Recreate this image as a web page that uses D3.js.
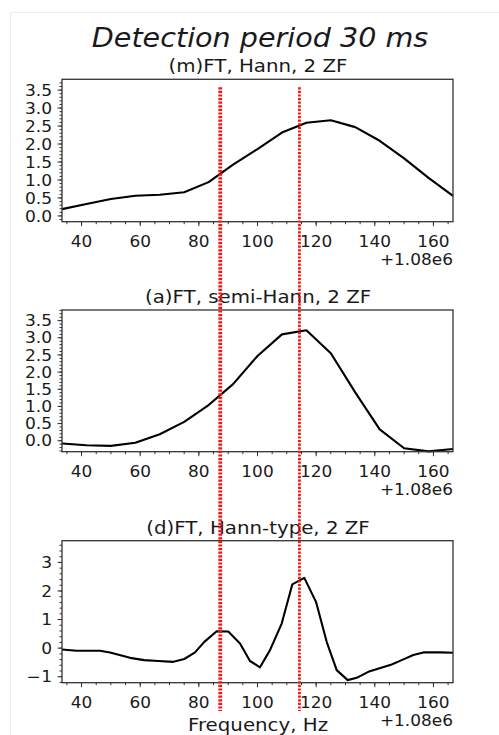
<!DOCTYPE html>
<html>
<head>
<meta charset="utf-8">
<script src="https://cdn.jsdelivr.net/npm/d3@7"></script>
<style>
  html, body { margin: 0; padding: 0; background: #fff; }
  svg { display: block; }
  text { font-family: "DejaVu Sans", sans-serif; fill: #1a1a1a; }
</style>
</head>
<body>
<svg id="fig" width="499" height="735"></svg>
<script>
// Frequency offsets (Hz, relative to 1.08e6) for the mFT and aFT spectra
const freqGrid = [33.33, 41.67, 50.0, 58.33, 66.67, 75.0, 83.33, 91.67, 100.0,
                  108.33, 116.67, 125.0, 133.33, 141.67, 150.0, 158.33, 166.67];
// (m)FT, Hann window, 2 zero fills
const mftHann = [0.19, 0.33, 0.47, 0.56, 0.59, 0.66, 0.94, 1.43, 1.86,
                 2.32, 2.59, 2.66, 2.47, 2.09, 1.60, 1.06, 0.56];
// (a)FT, semi-Hann window, 2 zero fills
const aftSemiHann = [-0.08, -0.13, -0.15, -0.06, 0.19, 0.55, 1.04, 1.65, 2.47,
                     3.10, 3.22, 2.55, 1.41, 0.33, -0.22, -0.31, -0.24];
// (d)FT, Hann-type window, 2 zero fills (finer grid)
const dftFreq = [33.33, 38.35, 46.29, 49.70, 56.52, 61.40, 66.17, 71.29, 75.04,
                 78.69, 81.86, 86.09, 90.04, 94.03, 97.44, 100.85, 104.26, 108.25,
                 111.86, 115.96, 119.95, 123.59, 127.01, 130.76, 133.82, 137.78,
                 145.76, 149.17, 153.13, 156.54, 162.23, 166.67];
const dftHannType = [-0.05, -0.09, -0.09, -0.15, -0.34, -0.42, -0.45, -0.48, -0.38,
                     -0.15, 0.22, 0.59, 0.58, 0.16, -0.45, -0.67, -0.07, 0.86,
                     2.23, 2.46, 1.62, 0.22, -0.77, -1.12, -1.04, -0.83,
                     -0.57, -0.42, -0.24, -0.15, -0.15, -0.16];
// Marked frequencies (Hz, relative to 1.08e6)
const markerFreqs = [87.3, 114.3];

const panelTitles = ["(m)FT, Hann, 2 ZF", "(a)FT, semi-Hann, 2 ZF", "(d)FT, Hann-type, 2 ZF"];
const figTitle = "Detection period 30 ms";
const xLabel = "Frequency, Hz";
const offsetLabel = "+1.08e6";
const xTicks = [40, 60, 80, 100, 120, 140, 160];
const yTicksHalf = [0.0, 0.5, 1.0, 1.5, 2.0, 2.5, 3.0, 3.5];
const yTicksUnit = [-1, 0, 1, 2, 3];

const svg = d3.select("#fig");

function label(g, x, y, str, size, anchor, italic, sx) {
  return g.append("text")
    .attr("transform", `translate(${x},${y}) scale(${sx || 1.1},1)`)
    .attr("text-anchor", anchor || "middle")
    .style("font-size", size + "px")
    .style("font-style", italic ? "italic" : "normal")
    .text(str);
}

// light frame round the figure
svg.append("path")
  .attr("d", "M10.5,735 V12.5 H499")
  .attr("fill", "none").attr("stroke", "#ececec").attr("stroke-width", 1);

label(svg, 260, 47, figTitle, 26, "middle", true);

const left = 62, right = 453;
const x = d3.scaleLinear().domain([33.33, 166.67]).range([left, right]);

const panels = [
  { title: panelTitles[0], xs: freqGrid, ys: mftHann, dom: [-0.16, 3.80], top: 79.3, bottom: 221.7,
    ticks: yTicksHalf, minorStep: 0.1, fmt: d3.format(".1f") },
  { title: panelTitles[1], xs: freqGrid, ys: aftSemiHann, dom: [-0.32, 3.81], top: 310, bottom: 451.7,
    ticks: yTicksHalf, minorStep: 0.1, fmt: d3.format(".1f") },
  { title: panelTitles[2], xs: dftFreq, ys: dftHannType, dom: [-1.21, 3.76], top: 540.7, bottom: 682.7,
    ticks: yTicksUnit, minorStep: 0.2, fmt: d3.format("d") }
];

const xMinor = d3.range(35, 167, 5);

panels.forEach((p, i) => {
  const y = d3.scaleLinear().domain(p.dom).range([p.bottom, p.top]);
  p.y = y;
  const g = svg.append("g");

  // minor + major ticks
  const yMinor = d3.range(Math.ceil(p.dom[0] / p.minorStep) * p.minorStep, p.dom[1], p.minorStep)
    .map(v => +v.toFixed(3));
  const tickG = g.append("g").attr("stroke", "#333").attr("stroke-width", 1);
  tickG.selectAll(".ymin").data(yMinor).join("line")
    .attr("x1", left - 2.5).attr("x2", left).attr("y1", d => y(d)).attr("y2", d => y(d));
  tickG.selectAll(".ymaj").data(p.ticks).join("line")
    .attr("x1", left - 4.5).attr("x2", left).attr("y1", d => y(d)).attr("y2", d => y(d));
  tickG.selectAll(".xmin").data(xMinor).join("line")
    .attr("x1", d => x(d)).attr("x2", d => x(d)).attr("y1", p.bottom).attr("y2", p.bottom + 2.5);
  tickG.selectAll(".xmaj").data(xTicks).join("line")
    .attr("x1", d => x(d)).attr("x2", d => x(d)).attr("y1", p.bottom).attr("y2", p.bottom + 4.5);

  // tick labels
  p.ticks.forEach(t => label(g, 52, y(t) + 5.6, p.fmt(t), 15.5, "end"));
  xTicks.forEach(t => label(g, x(t), p.bottom + 25.5, String(t), 16, "middle", false, 1.06));
  label(g, right, p.bottom + 43.5, offsetLabel, 16, "end", false, 1.06);

  // spectrum line
  const line = d3.line().x(d => x(d[0])).y(d => y(d[1]));
  g.append("path")
    .datum(p.xs.map((f, k) => [f, p.ys[k]]))
    .attr("d", line)
    .attr("fill", "none").attr("stroke", "#000").attr("stroke-width", 2.1)
    .attr("stroke-linejoin", "round");

  // axes frame
  g.append("rect")
    .attr("x", left).attr("y", p.top).attr("width", right - left).attr("height", p.bottom - p.top)
    .attr("fill", "none").attr("stroke", "#333").attr("stroke-width", 1.3);

  label(g, 258, p.top - 7, p.title, 18, "middle");
});

label(svg, 258, 731, xLabel, 18, "middle");

// marker lines spanning all three panels
const yTopEnd = panels[0].y(3.58);
const yBotEnd = panels[2].y(-2.2);
svg.append("g").selectAll("line").data(markerFreqs).join("line")
  .attr("x1", d => x(d)).attr("x2", d => x(d))
  .attr("y1", yTopEnd).attr("y2", yBotEnd)
  .attr("stroke", "#ff1010")
  .attr("stroke-width", (d, i) => i === 0 ? 3.8 : 2.8)
  .attr("stroke-dasharray", "2.2,1.4");
</script>
</body>
</html>
